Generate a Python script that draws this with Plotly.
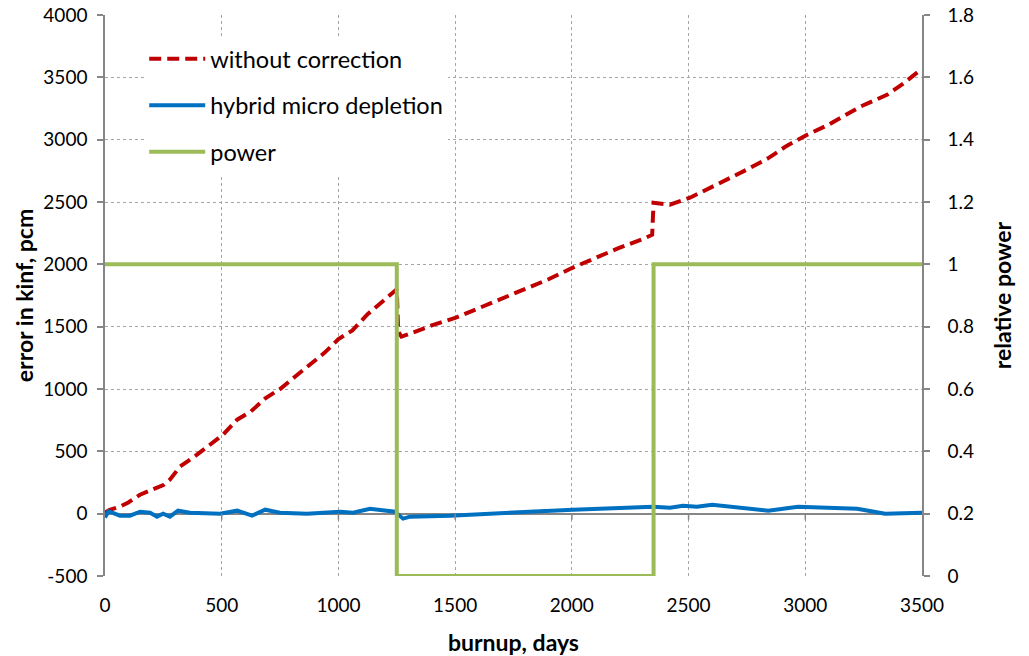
import plotly.graph_objects as go

# burnup (days) and kinf error (pcm) without correction
red_x = [0, 20, 64, 100, 150, 206, 250, 278, 321, 394, 450, 506, 566, 625, 690, 750, 815,
         875, 940, 1000, 1060, 1125, 1190, 1250, 1256, 1270, 1300, 1400, 1500, 1607, 1700,
         1800, 1900, 2000, 2100, 2200, 2300, 2344, 2350, 2420, 2506, 2600, 2678, 2750, 2840,
         2920, 3008, 3100, 3235, 3350, 3420, 3500]
red_y = [10, 30, 56, 90, 152, 192, 230, 273, 377, 473, 553, 634, 754, 820, 930, 1000, 1100,
         1190, 1290, 1400, 1470, 1600, 1700, 1800, 1460, 1420, 1440, 1510, 1570, 1652, 1720,
         1800, 1880, 1970, 2050, 2130, 2200, 2237, 2494, 2478, 2534, 2620, 2694, 2760, 2850,
         2950, 3039, 3120, 3264, 3360, 3450, 3570]

# kinf error (pcm) with hybrid micro depletion
blue_x = [0, 15, 64, 107, 150, 193, 223, 249, 278, 313, 364, 493, 566, 630, 686, 750, 865,
          1007, 1063, 1135, 1242, 1277, 1307, 1478, 2005, 2348, 2421, 2476, 2536, 2601, 2841,
          2969, 3222, 3342, 3500]
blue_y = [-30, 20, -16, -16, 16, 8, -24, 0, -24, 24, 8, 0, 24, -16, 32, 8, 0,
          16, 8, 40, 16, -40, -24, -16, 32, 56, 48, 64, 56, 72, 24,
          56, 40, 0, 8]

# relative power history
power_x = [0, 1250, 1250, 2350, 2350, 3500]
power_y = [1, 1, 0, 0, 1, 1]

x_ticks = [0, 500, 1000, 1500, 2000, 2500, 3000, 3500]
y_ticks = [-500, 0, 500, 1000, 1500, 2000, 2500, 3000, 3500, 4000]
y_tick_labels = [str(v) for v in y_ticks]  # plain hyphen for negatives

FONT = "Lato"
AXIS_GRAY = "#868686"
GRID_GRAY = "#a6a6a6"

fig = go.Figure()
fig.add_trace(go.Scatter(x=red_x, y=red_y, mode="lines", name="without correction",
                         legendgroup="a",
                         line=dict(color="#C00000", width=4, dash="12px,6px")))
fig.add_trace(go.Scatter(x=blue_x, y=blue_y, mode="lines", name="hybrid micro depletion",
                         legendgroup="b",
                         line=dict(color="#0070C0", width=4)))
fig.add_trace(go.Scatter(x=power_x, y=power_y, mode="lines", name="power", yaxis="y2",
                         legendgroup="c",
                         line=dict(color="#9BBB59", width=4)))

# small tick marks where the x axis crosses zero
for v in x_ticks[1:-1]:
    fig.add_shape(type="line", xref="x", yref="y", x0=v, x1=v,
                  ysizemode="pixel", yanchor=0, y0=0, y1=-6,
                  line=dict(color=AXIS_GRAY, width=1.5), layer="above")

title_font = dict(family=FONT, size=23)

fig.update_layout(
    width=1029, height=656,
    margin=dict(l=105, r=107, t=15, b=80),
    paper_bgcolor="white", plot_bgcolor="white",
    font=dict(family=FONT, size=19, color="#000000"),
    showlegend=True,
    legend=dict(x=0.048, y=0.961, xanchor="left", yanchor="top",
                bgcolor="white", borderwidth=0,
                font=dict(family=FONT, size=23.5),
                itemwidth=56, traceorder="grouped", tracegroupgap=13),
    xaxis=dict(range=[0, 3500], tickvals=x_ticks, ticks="", automargin=False,
               showgrid=True, gridcolor=GRID_GRAY, griddash="dot", gridwidth=1,
               zeroline=False, showline=False, ticklabelstandoff=16,
               title=dict(text="<b>burnup, days</b>", font=title_font, standoff=20)),
    yaxis=dict(range=[-500, 4000], tickvals=y_ticks, ticktext=y_tick_labels,
               ticks="outside", ticklen=6, automargin=False,
               tickcolor=AXIS_GRAY, tickwidth=1.5,
               showline=True, linecolor=AXIS_GRAY, linewidth=1.5,
               showgrid=True, gridcolor=GRID_GRAY, griddash="dot", gridwidth=1,
               zeroline=True, zerolinecolor=AXIS_GRAY, zerolinewidth=1.5,
               ticklabelstandoff=6,
               title=dict(text="<b>error in kinf, pcm</b>", font=title_font, standoff=3)),
    yaxis2=dict(range=[0, 1.8], dtick=0.2, overlaying="y", side="right", automargin=False,
                ticks="outside", ticklen=6, tickcolor=AXIS_GRAY, tickwidth=1.5,
                showline=True, linecolor=AXIS_GRAY, linewidth=1.5,
                showgrid=False, zeroline=False, ticklabelstandoff=14,
                tickformat="~g",
                title=dict(text="<b>relative power</b>", font=title_font, standoff=22)),
)

fig.write_html("out.html")
